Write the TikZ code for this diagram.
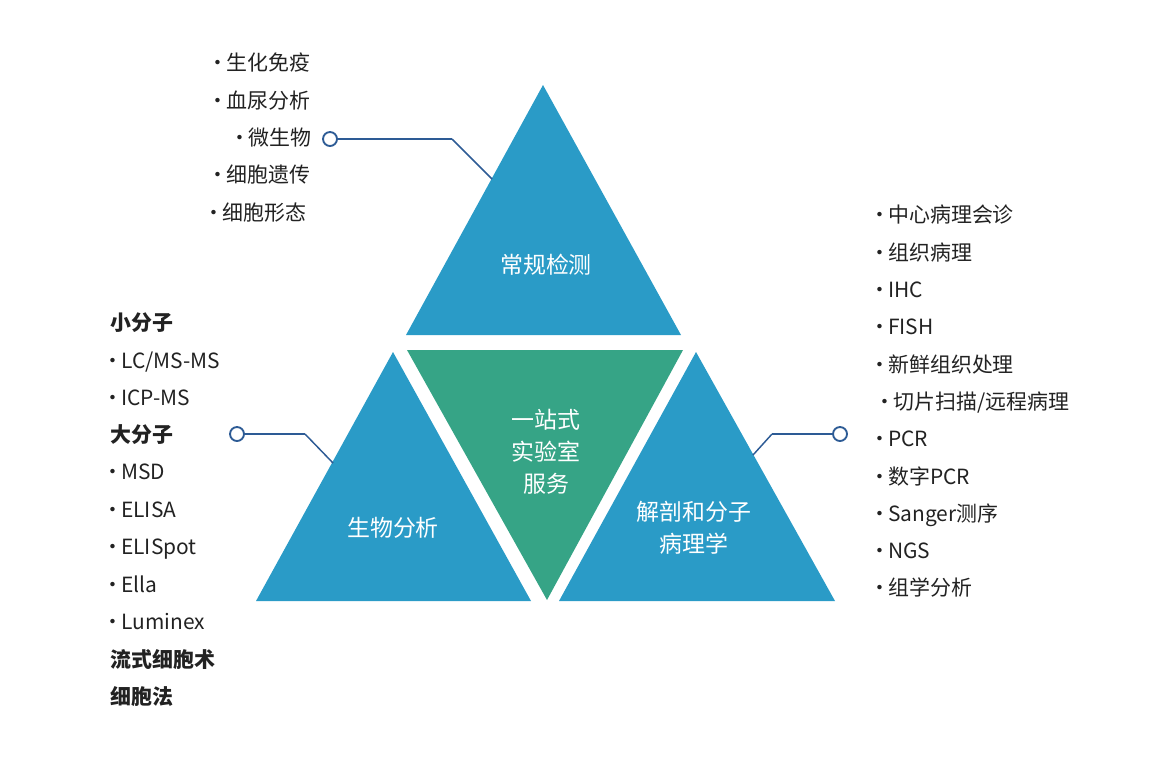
\documentclass[tikz,border=0pt]{standalone}
\usepackage{fontspec}
\setmainfont{Noto Sans CJK SC}
\usetikzlibrary{positioning}

\definecolor{triblue}{HTML}{2A9BC7}
\definecolor{trigreen}{HTML}{36A486}
\definecolor{linkblue}{HTML}{2D5B95}
\definecolor{txtdark}{HTML}{222222}

% narrow bullet
\newcommand\bul{\makebox[8.25pt][l]{\hspace{-6pt}·}}

\begin{document}
\begin{tikzpicture}[x=0.75pt,y=-0.75pt,
    tri/.style={fill=triblue,draw=none},
    mid/.style={fill=trigreen,draw=none},
    title/.style={text=white,font=\fontsize{17.2}{24}\selectfont,align=center,inner sep=0pt},
    item/.style={text=txtdark,font=\fontsize{15.7}{18}\selectfont,anchor=west,inner sep=0pt,
        text height=13.8pt,text depth=1.9pt},
    head/.style={item,font=\fontsize{15.7}{18}\selectfont\bfseries},
    dot/.style={circle,draw=linkblue,fill=white,line width=1.4pt,minimum size=14pt*0.75,inner sep=0pt},
    link/.style={draw=linkblue,line width=1.6pt},
    slant/.style={draw=linkblue,line width=1.1pt}]
    \useasboundingbox (0,0) rectangle (1151,758);

    % triangles
    \fill[tri] (543,85) -- (681,335) -- (406,335) -- cycle;
    \fill[mid] (407,350) -- (683,350) -- (547,600) -- cycle;
    \fill[tri] (393,352) -- (531,601) -- (256,601) -- cycle;
    \fill[tri] (696,352) -- (835,601) -- (559,601) -- cycle;

    \node[title] (top) at (546,265) {常规检测};
    \node[title] (core) at (546,452) {一站式\\实验室\\服务};
    \node[title] (bio) at (393,528) {生物分析};
    \node[title] (path) at (694,528) {解剖和分子\\病理学};

    % connectors
    \node[dot] (dtop) at (330,139) {};
    \coordinate (ktop) at (452,139);
    \coordinate (etop) at (492,179);
    \draw[link] (dtop) -- (ktop);
    \draw[slant] (ktop) -- (etop);

    \node[dot] (dbio) at (237,434) {};
    \coordinate (kbio) at (305,434);
    \coordinate (ebio) at (333,463);
    \draw[link] (dbio) -- (kbio);
    \draw[slant] (kbio) -- (ebio);

    \node[dot] (dpath) at (840,434) {};
    \coordinate (kpath) at (772,434);
    \coordinate (epath) at (753,455);
    \draw[link] (dpath) -- (kpath);
    \draw[slant] (kpath) -- (epath);

    % top list
    \node[item] (t1) at (215,63) {\bul 生化免疫};
    \node[item] (t2) at (215,101) {\bul 血尿分析};
    \node[item] (t3) at (237,138) {\bul 微生物};
    \node[item] (t4) at (215,175) {\bul 细胞遗传};
    \node[item] (t5) at (211,213) {\bul 细胞形态};

    % left list
    \node[head] (l1) at (110,323) {小分子};
    \node[item] (l2) at (110,361) {\bul LC/MS-MS};
    \node[item] (l3) at (110,398) {\bul ICP-MS};
    \node[head] (l4) at (110,435) {大分子};
    \node[item] (l5) at (110,472) {\bul MSD};
    \node[item] (l6) at (110,510) {\bul ELISA};
    \node[item] (l7) at (110,547) {\bul ELISpot};
    \node[item] (l8) at (110,585) {\bul Ella};
    \node[item] (l9) at (110,622) {\bul Luminex};
    \node[head] (l10) at (110,660) {流式细胞术};
    \node[head] (l11) at (110,697) {细胞法};

    % right list
    \foreach \t/\dx [count=\i] in {中心病理会诊/0,组织病理/0,IHC/0,FISH/0,新鲜组织处理/0,
        {切片扫描/远程病理}/5,PCR/0,数字PCR/0,Sanger测序/0,NGS/0,组学分析/0}
        \node[item] (r\i) at (877+\dx,215+37.3*\i-37.3) {\bul\t};
\end{tikzpicture}
\end{document}
